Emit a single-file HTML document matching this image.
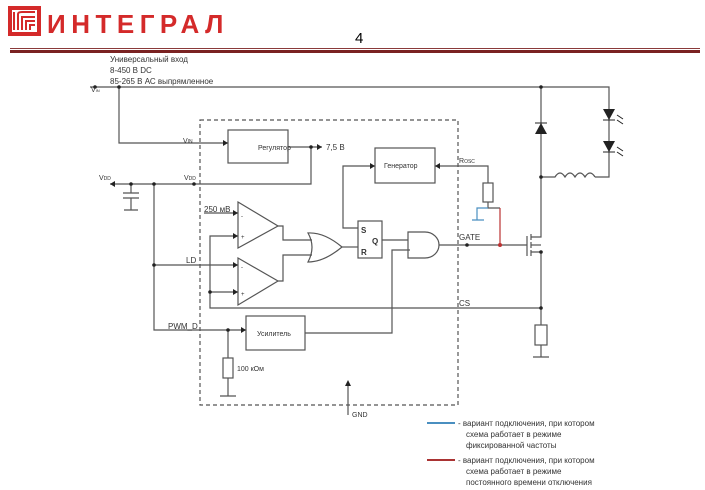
<!DOCTYPE html>
<html><head><meta charset="utf-8"><style>
body{margin:0;background:#fff;}
svg{display:block;font-family:"Liberation Sans",sans-serif;}
</style></head><body>
<svg width="705" height="490" viewBox="0 0 705 490" xmlns="http://www.w3.org/2000/svg">
<!-- header -->
<rect x="8" y="6" width="33" height="30" fill="#d42a2a"/>
<rect x="12" y="10" width="25" height="22" fill="#fff"/>
<path d="M14 30 L14 12 M18 30 L18 14 Q18 12 22 12 L35 12 M22 30 L22 17 L35 17 M26 30 L26 21 L35 21 M30 30 L30 25 L35 25" stroke="#d42a2a" stroke-width="2" fill="none"/>
<text x="47" y="33" font-size="26" font-weight="bold" fill="#d42a2a" letter-spacing="5.5">ИНТЕГРАЛ</text>
<text x="355" y="43" font-size="15" fill="#000">4</text>
<line x1="10" y1="48.5" x2="700" y2="48.5" stroke="#8a3a3a" stroke-width="1"/>
<line x1="10" y1="51.5" x2="700" y2="51.5" stroke="#7a2222" stroke-width="3"/>
<g stroke="#555" stroke-width="1.2" fill="none">
<rect x="200" y="120" width="258" height="285" stroke-dasharray="4,3"/>
<path d="M90 87 L609 87 L609 177 L595 177"/>
<path d="M119 87 L119 143 L228 143"/>
<rect x="228" y="130" width="60" height="33"/>
<path d="M288 147 L322 147"/>
<path d="M311 147 L311 184 L110 184"/>
<path d="M131 184 L131 193 M123 193 L139 193 M123 198 L139 198 M131 198 L131 210 M124 210 L138 210"/>
<path d="M154 184 L154 330 L246 330"/>
<rect x="246" y="316" width="59" height="34"/>
<path d="M305 333 L392 333 L392 250 L410 250"/>
<path d="M228 330 L228 358 M228 378 L228 396 M220 396 L236 396"/>
<rect x="223" y="358" width="10" height="20"/>
<path d="M154 265 L238 265"/>
<path d="M204 213 L238 213"/>
<path d="M238 202 L278 226 L238 248 Z"/>
<path d="M238 258 L278 281 L238 305 Z"/>
<path d="M238 236 L210 236 L210 308 L541 308"/>
<path d="M210 292 L238 292"/>
<path d="M278 226 L283 226 L283 240 L312 240 M278 281 L283 281 L283 255 L312 255"/>
<path d="M308 233 Q324 232 342 247 Q324 262 308 262 Q316 247 308 233 Z"/>
<path d="M342 247 L358 247"/>
<rect x="358" y="221" width="24" height="37"/>
<path d="M358 228 L343 228 L343 166 L375 166"/>
<rect x="375" y="148" width="60" height="35"/>
<path d="M382 240 L408 240"/>
<path d="M408 232 L425 232 A14 13 0 0 1 425 258 L408 258 Z"/>
<path d="M439 245 L527 245"/>
<path d="M435 166 L488 166 L488 183 M488 202 L488 208 L500 208"/>
<rect x="483" y="183" width="10" height="19"/>
<path d="M541 87 L541 237 L531 237 M531 252 L541 252 L541 325 M541 345 L541 357 M533 357 L549 357"/>
<rect x="535" y="325" width="12" height="20"/>
<path d="M527 236 L527 256 M531 234 L531 240 M531 242 L531 248 M531 250 L531 256"/>
<path d="M531 245 L541 245"/>
<path d="M541 177 L555 177 q5 -8 10 0 q5 -8 10 0 q5 -8 10 0 q5 -8 10 0 L595 177"/>
<path d="M348 415 L348 383"/>
</g>
<path d="M500 208 L500 245" stroke="#b33" stroke-width="1.2"/>
<path d="M488 208 L477 208 L477 220 M472 220 L484 220" stroke="#4a8fc0" stroke-width="1.2" fill="none"/>
<line x1="427" y1="423" x2="455" y2="423" stroke="#4a8fc0" stroke-width="2"/>
<line x1="427" y1="460" x2="455" y2="460" stroke="#a33" stroke-width="2"/>
<g fill="#222">
<path d="M535 134 L547 134 L541 123 Z"/><line x1="535" y1="123" x2="547" y2="123" stroke="#222"/>
<path d="M603 109 L615 109 L609 120 Z"/><line x1="603" y1="120" x2="615" y2="120" stroke="#222"/>
<path d="M603 141 L615 141 L609 152 Z"/><line x1="603" y1="152" x2="615" y2="152" stroke="#222"/>
<path d="M617 115 l6 4 M617 120 l6 4 M617 147 l6 4 M617 152 l6 4" stroke="#222"/>
<circle cx="95" cy="87" r="1.8"/><circle cx="119" cy="87" r="1.8"/><circle cx="541" cy="87" r="1.8"/>
<circle cx="311" cy="147" r="1.8"/><circle cx="131" cy="184" r="1.8"/><circle cx="154" cy="184" r="1.8"/><circle cx="194" cy="184" r="1.8"/>
<circle cx="154" cy="265" r="1.8"/><circle cx="210" cy="292" r="1.8"/><circle cx="228" cy="330" r="1.8"/>
<circle cx="467" cy="245" r="1.8"/><circle cx="541" cy="177" r="1.8"/><circle cx="541" cy="252" r="1.8"/><circle cx="541" cy="308" r="1.8"/>
<path d="M228 143 l-5 -3 v6 Z M322 147 l-5 -3 v6 Z M110 184 l5 -3 v6 Z M375 166 l-5 -3 v6 Z M435 166 l5 -3 v6 Z M238 213 l-5 -3 v6 Z M238 236 l-5 -3 v6 Z M238 265 l-5 -3 v6 Z M238 292 l-5 -3 v6 Z M246 330 l-5 -3 v6 Z M348 380 l-3 6 h6 Z"/>
</g>
<circle cx="500" cy="245" r="2" fill="#b33"/>
<g font-size="8" fill="#333">
<text x="110" y="62">Универсальный вход</text>
<text x="110" y="73">8-450 В DC</text>
<text x="110" y="84">85-265 В АС выпрямленное</text>
<text x="91" y="92" font-size="7">V<tspan font-size="4">IN</tspan></text>
<text x="183" y="143" font-size="7">V<tspan font-size="5">IN</tspan></text>
<text x="99" y="180" font-size="7">V<tspan font-size="5">DD</tspan></text>
<text x="184" y="180" font-size="7">V<tspan font-size="5">DD</tspan></text>
<text x="258" y="150" font-size="7">Регулятор</text>
<text x="326" y="150">7,5 В</text>
<text x="384" y="168" font-size="7">Генератор</text>
<text x="459" y="163" font-size="7">R<tspan font-size="5">OSC</tspan></text>
<text x="204" y="212">250 мВ</text>
<text x="186" y="263">LD</text>
<text x="361" y="233" font-weight="bold">S</text>
<text x="372" y="244" font-weight="bold">Q</text>
<text x="361" y="255" font-weight="bold">R</text>
<text x="459" y="240">GATE</text>
<text x="459" y="306">CS</text>
<text x="168" y="329">PWM_D</text>
<text x="257" y="336" font-size="7">Усилитель</text>
<text x="237" y="371" font-size="7">100 кОм</text>
<text x="352" y="417" font-size="7">GND</text>
<text x="241" y="218" font-size="6">-</text><text x="241" y="239" font-size="6">+</text>
<text x="241" y="269" font-size="6">-</text><text x="241" y="296" font-size="6">+</text>
<text x="458" y="426">- вариант подключения, при котором</text>
<text x="466" y="437">схема работает в режиме</text>
<text x="466" y="448">фиксированной частоты</text>
<text x="458" y="463">- вариант подключения, при котором</text>
<text x="466" y="474">схема работает в режиме</text>
<text x="466" y="485">постоянного времени отключения</text>
</g>
</svg>
</body></html>
